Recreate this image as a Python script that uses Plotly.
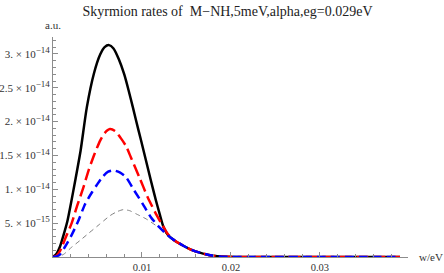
import numpy as np
import plotly.graph_objects as go

# ---- data (y values in units of 1e-15 a.u.) ----
black_x = [0, 0.0004, 0.0008, 0.0012, 0.0016, 0.0020, 0.0025, 0.0031, 0.0038,
           0.0046, 0.0053, 0.0058, 0.0063, 0.0068, 0.0074, 0.0080, 0.0085, 0.0090,
           0.00933, 0.0099, 0.01045, 0.0110, 0.01157, 0.0120, 0.0124, 0.0129]
black_y = [0, 0.5, 1.6, 3.3, 5.2, 7.8, 11.3, 15.7, 22.1,
           27.1, 29.9, 31.0, 31.3, 30.8, 29.2, 27.0, 24.6, 22.0,
           20.2, 17.2, 14.25, 11.3, 8.35, 6.3, 4.5, 3.3]

red_x = [0, 0.0004, 0.0008, 0.0010, 0.0014, 0.0021, 0.0027, 0.0034, 0.0040, 0.0046,
         0.0053, 0.0058, 0.0064, 0.0070, 0.0076, 0.0082, 0.00876, 0.0097, 0.01064,
         0.01157, 0.01232, 0.0129]
red_y = [0, 0.2, 0.9, 1.5, 2.8, 5.0, 7.5, 10.2, 12.8, 15.0,
         17.2, 18.3, 18.9, 18.6, 17.6, 16.4, 14.7, 11.8, 8.83,
         6.38, 4.65, 3.4]

blue_x = [0, 0.0004, 0.0008, 0.0013, 0.0020, 0.0028, 0.0036, 0.0044, 0.0049, 0.0056,
          0.0062, 0.0068, 0.0075, 0.0082, 0.00913, 0.01008, 0.0110, 0.01195, 0.0129]
blue_y = [0, 0.1, 0.4, 1.4, 3.0, 5.2, 7.8, 9.6, 10.6, 11.9,
          12.6, 12.8, 12.5, 11.8, 9.82, 7.86, 5.88, 4.4, 3.2]

gray_x = [0, 0.0006, 0.0012, 0.0021, 0.0030, 0.0040, 0.0052, 0.0064, 0.0072, 0.0079,
          0.0086, 0.00933, 0.01045, 0.01157, 0.0125, 0.0131]
gray_y = [0, 0.05, 0.4, 1.45, 2.4, 3.5, 4.8, 6.1, 6.7, 7.0,
          6.85, 6.38, 5.64, 4.65, 3.66, 3.05]

# common tail shared by all curves
tail_x = [0.0135, 0.0146, 0.0155, 0.0165, 0.0175, 0.0185, 0.0195, 0.0210, 0.0250, 0.0300, 0.0350, 0.0390]
tail_y = [2.6, 1.7, 1.1, 0.65, 0.3, 0.1, 0.02, 0, 0, 0, 0, 0]

y_tick_mant = ["5.", "1.", "1.5", "2.", "2.5", "3."]
y_tick_exp = ["−15", "−14", "−14", "−14", "−14", "−14"]
y_tickvals = [5, 10, 15, 20, 25, 30]
x_tickvals = [0.01, 0.02, 0.03]
x_ticktext = ["0.01", "0.02", "0.03"]

title_text = "Skyrmion rates of  M−NH,5meV,alpha,eg=0.029eV"

SCALE = 1e-15

y_ticktext = [f"{m} × 10<sup><span style='font-size:9px'>{e}</span></sup>"
              for m, e in zip(y_tick_mant, y_tick_exp)]

def full(xs, ys):
    return np.array(xs + tail_x), np.array(ys + tail_y) * SCALE

series = [
    (gray_x, gray_y, dict(color="#808080", width=1, dash="5px,4px")),
    (black_x, black_y, dict(color="black", width=2.5)),
    (red_x, red_y, dict(color="#ff0000", width=2.5, dash="12px,5px")),
    (blue_x, blue_y, dict(color="#0000ff", width=2.5, dash="9px,5px")),
]

fig = go.Figure()
for xs, ys, ln in series:
    X, Y = full(xs, ys)
    fig.add_trace(go.Scatter(x=X, y=Y, mode="lines",
                             line=dict(shape="spline", smoothing=0.6, **ln),
                             showlegend=False, hoverinfo="skip"))

axcol = "#8c8c8c"
tickfont = dict(family="Liberation Serif", size=11, color="#333")

fig.update_layout(
    width=444, height=273,
    margin=dict(l=53, r=36, t=37, b=16),
    plot_bgcolor="white", paper_bgcolor="white",
    title=dict(text=title_text, x=227.5 / 444, xref="container", y=1 - 11 / 273, yref="container",
               xanchor="center", yanchor="middle",
               font=dict(family="Liberation Serif", size=14, color="#222")),
    xaxis=dict(range=[0, 0.0399], showgrid=False, zeroline=False,
               showline=True, linecolor=axcol, linewidth=1,
               tickvals=x_tickvals, ticktext=x_ticktext,
               ticks="inside", ticklen=5, tickcolor=axcol,
               tickfont=dict(family="Liberation Serif", size=10.5, color="#333"),
               minor=dict(dtick=0.002, tick0=0, ticks="inside", ticklen=3, tickcolor=axcol),
               automargin=False),
    yaxis=dict(range=[0, 32.5e-15], showgrid=False, zeroline=False,
               showline=True, linecolor=axcol, linewidth=1,
               tickvals=[v * SCALE for v in y_tickvals], ticktext=y_ticktext,
               ticks="inside", ticklen=5, tickcolor=axcol, tickfont=tickfont,
               minor=dict(dtick=1e-15, tick0=0, ticks="inside", ticklen=3, tickcolor=axcol),
               automargin=False),
    annotations=[
        dict(text="a.u.", x=0, y=1 + 12 / 220, xref="paper", yref="paper",
             xanchor="center", yanchor="middle", showarrow=False,
             font=dict(family="Liberation Serif", size=11, color="#333")),
        dict(text="w/eV", x=(431 - 53) / 355, y=0, xref="paper", yref="paper",
             xanchor="center", yanchor="middle", showarrow=False,
             font=dict(family="Liberation Serif", size=11, color="#333")),
    ],
)

fig.write_html("out.html", config={"displayModeBar": False},
               post_script="document.body.style.margin='0px';document.body.style.overflow='hidden';")
